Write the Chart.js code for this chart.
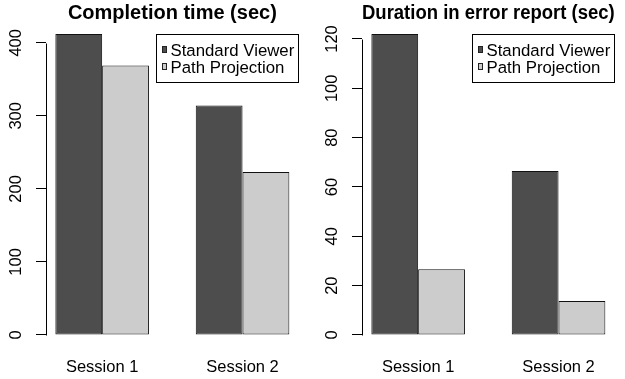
<!DOCTYPE html>
<html>
<head>
<meta charset="utf-8">
<script src="https://cdn.jsdelivr.net/npm/chart.js@4/dist/chart.umd.min.js"></script>
<style>
  html, body { margin: 0; padding: 0; background: #fff; }
  #wrap { position: relative; width: 625px; height: 379px; }
  .panel { position: absolute; top: 0; height: 379px; }
</style>
</head>
<body>
<div id="wrap">
  <div class="panel" style="left:0;width:312px"><canvas id="c1" width="312" height="379"></canvas></div>
  <div class="panel" style="left:312px;width:313px"><canvas id="c2" width="313" height="379"></canvas></div>
</div>
<script>
// ---- data ----
const categories = ['Session 1', 'Session 2'];
const seriesNames = ['Standard Viewer', 'Path Projection'];
const seriesColors = ['#4D4D4D', '#CCCCCC'];
const completionStandard = [412, 314];
const completionPath = [369, 223];
const errorStandard = [122, 66.5];
const errorPath = [26.6, 13.8];
const completionTicks = [0, 100, 200, 300, 400];
const errorTicks = [0, 20, 40, 60, 80, 100, 120];
const titles = ['Completion time (sec)', 'Duration in error report (sec)'];

const FONT = '"Liberation Sans", Arial, Helvetica, sans-serif';
Chart.defaults.font.family = FONT;
Chart.defaults.color = '#000';

// axis line from first to last tick (R style)
const axisLine = {
  id: 'axisLine',
  afterDraw(chart) {
    const y = chart.scales.y;
    const t = y.ticks;
    const ctx = chart.ctx;
    const x = Math.round(chart.chartArea.left) + 0.5;
    ctx.save();
    ctx.strokeStyle = '#000';
    ctx.lineWidth = 1;
    ctx.beginPath();
    ctx.moveTo(x, Math.round(y.getPixelForValue(t[0].value)) + 0.5);
    ctx.lineTo(x, Math.round(y.getPixelForValue(t[t.length - 1].value)) + 0.5);
    ctx.stroke();
    ctx.restore();
  }
};

// boxed legend in top-right of plot region, top at the highest bar
const boxLegend = {
  id: 'boxLegend',
  afterDraw(chart) {
    const ctx = chart.ctx;
    const area = chart.chartArea;
    const ys = chart.scales.y;
    const ds = chart.data.datasets;
    const maxVal = Math.max(...ds.flatMap(d => d.data.map(p => p.y)));
    const fs = 16.8;
    ctx.save();
    ctx.font = fs + 'px ' + FONT;
    const tw = Math.max(...ds.map(d => ctx.measureText(d.label).width));
    const w = tw + 19;
    const right = Math.round(area.right) - 0.5;
    const left = Math.round(right - w) + 0.5;
    const top = Math.round(ys.getPixelForValue(maxVal)) + 0.5;
    const rowH = 16.7;
    const h = Math.round(rowH * ds.length + 15);
    ctx.fillStyle = '#fff';
    ctx.fillRect(left, top, right - left, h);
    ctx.strokeStyle = '#000';
    ctx.lineWidth = 1;
    ctx.strokeRect(left, top, right - left, h);
    ds.forEach((d, i) => {
      const cy = top + 17.3 + i * rowH;
      const sx = Math.round(left + 5), sy = Math.round(cy - 5.5);
      ctx.fillStyle = d.backgroundColor;
      ctx.fillRect(sx, sy, 5, 7);
      ctx.strokeStyle = '#222';
      ctx.strokeRect(sx + 0.5, sy + 0.5, 4, 6);
      ctx.fillStyle = '#000';
      ctx.textAlign = 'left';
      ctx.textBaseline = 'middle';
      ctx.fillText(d.label, left + 14, cy);
    });
    ctx.restore();
  }
};

function makePanel(canvasId, title, seriesA, seriesB, yTicks, yAxisWidth, padRight) {
  const values = seriesA.concat(seriesB);
  const maxVal = Math.max(...values);
  // R barplot layout: each group = 1 space + 2 bars of width 1
  const groupCenter = i => 3 * i + 2;
  const xMin = 1 - 0.04 * 5, xMax = 3 * categories.length + 0.04 * 5;
  const toPoints = arr => arr.map((v, i) => ({ x: groupCenter(i), y: v }));
  const barStyle = { borderColor: '#111', borderWidth: 1, borderSkipped: false,
                     categoryPercentage: 2 / 3, barPercentage: 1 };
  return new Chart(document.getElementById(canvasId), {
    type: 'bar',
    data: {
      datasets: [
        Object.assign({ label: seriesNames[0], data: toPoints(seriesA), backgroundColor: seriesColors[0] }, barStyle),
        Object.assign({ label: seriesNames[1], data: toPoints(seriesB), backgroundColor: seriesColors[1] }, barStyle)
      ]
    },
    options: {
      responsive: false,
      animation: false,
      events: [],
      layout: { padding: { left: 0, right: padRight, top: 0, bottom: 0 } },
      plugins: {
        legend: { display: false },
        tooltip: { enabled: false },
        title: {
          display: true, text: title, fullSize: false, color: '#000',
          font: { size: 20, weight: 'bold', lineHeight: 0.9 },
          padding: { top: 4, bottom: 0 }
        }
      },
      scales: {
        x: {
          type: 'linear', offset: false, min: xMin, max: xMax,
          afterBuildTicks: s => { s.ticks = categories.map((c, i) => ({ value: groupCenter(i) })); },
          afterFit: s => { s.height = 32; },
          ticks: {
            callback: (v, i) => categories[i],
            font: { size: 16.5 }, color: '#000', padding: 11, maxRotation: 0, autoSkip: false
          },
          grid: { display: false, drawTicks: false },
          border: { display: false }
        },
        y: {
          min: -0.04 * maxVal, max: 1.04 * maxVal,
          afterBuildTicks: s => { s.ticks = yTicks.map(v => ({ value: v })); },
          afterFit: s => { s.width = yAxisWidth; },
          ticks: {
            font: { size: 16.5 }, color: '#000', padding: 6,
            minRotation: 90, maxRotation: 90, crossAlign: 'center', autoSkip: false
          },
          grid: { drawOnChartArea: false, drawTicks: true, tickLength: 10, color: '#000', tickColor: '#000', tickWidth: 1 },
          border: { display: false }
        }
      }
    },
    plugins: [axisLine, boxLegend]
  });
}

makePanel('c1', titles[0], completionStandard, completionPath, completionTicks, 46, 13.3);
makePanel('c2', titles[1], errorStandard, errorPath, errorTicks, 50, 10.3);
</script>
</body>
</html>
